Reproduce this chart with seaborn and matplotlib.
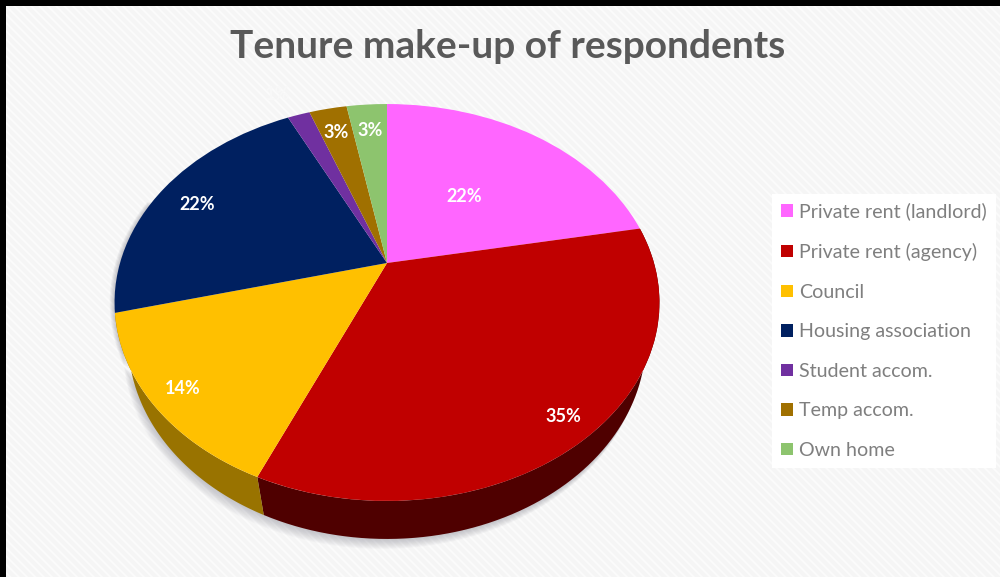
import numpy as np
import matplotlib
matplotlib.use('Agg')
import matplotlib.pyplot as plt
from matplotlib.patches import Rectangle
from matplotlib.transforms import Transform
import seaborn as sns

tenure = ['Private rent (landlord)', 'Private rent (agency)', 'Council',
          'Housing association', 'Student accom.', 'Temp accom.', 'Own home']
share = [22, 34.5, 14.5, 21.8, 1.6, 2.7, 2.9]
pct_labels = ['22%', '35%', '14%', '22%', '1%', '3%', '3%']
label_pos = [(464, 197), (563, 416), (183, 388), (197, 204), (278, 94), (336, 133), (370, 131)]
slice_colors = ['#FF66FF', '#C00000', '#FFC000', '#002060', '#7030A0', '#A07000', '#8DC46E']
side_colors = {1: '#4F0000', 2: '#997300'}

sns.set_theme(style='white')
plt.rcParams['font.family'] = ['Lato', 'DejaVu Sans']
plt.rcParams['hatch.linewidth'] = 1.4


def tilt(x, y):
    # the pie is seen in perspective, so its centre is not the ellipse centre
    d = 1 + 0.199 * y
    return 387 + 267 * x / d, 263 - 190.6 * y / d


class Tilt(Transform):
    input_dims = 2
    output_dims = 2

    def transform_non_affine(self, values):
        px, py = tilt(values[:, 0], values[:, 1])
        return np.column_stack([px, py])


def rim(t0, t1, shrink=0.95, drop=38):
    t = np.radians(np.linspace(t0, t1, 80))
    px, py = tilt(np.sin(t), np.cos(t))
    low_x = 387 + (px - 387) * shrink
    low_y = py + drop
    return np.r_[px, low_x[::-1]], np.r_[py, low_y[::-1]]


fig = plt.figure(figsize=(10, 5.77), dpi=100, facecolor='black')
ax = fig.add_axes([0, 0, 1, 1])
ax.add_patch(Rectangle((6, 6), 994, 571, fc='#F5F5F5', ec='#FBFBFB', lw=0, hatch='\\\\\\\\'))

wedges, _ = ax.pie(share, colors=sns.color_palette(slice_colors), startangle=90,
                   counterclock=False, wedgeprops={'lw': 0})
for w in wedges:
    w.set_transform(Tilt() + ax.transData)
    w.set_zorder(5)

ax.set_aspect('auto')
ax.set_xlim(0, 1000)
ax.set_ylim(577, 0)
ax.axis('off')

edges = np.cumsum([0] + share) / sum(share) * 360

# soft shadow under the rim
for s in range(1, 11):
    sx, sy = rim(70, 290, drop=38 + s)
    ax.fill(sx - s * 0.5, sy, color='#606070', alpha=0.035, lw=0, zorder=2)

# only the front slices show a side wall
for i, c in side_colors.items():
    sx, sy = rim(edges[i], edges[i + 1])
    ax.fill(sx, sy, color=c, lw=0, zorder=3)

for txt, (lx, ly) in zip(pct_labels, label_pos):
    col = '#F8F8F8' if txt == '1%' else 'white'
    ax.text(lx, ly, txt, color=col, fontsize=13, fontweight='bold',
            ha='center', va='center', zorder=6)

ax.text(508, 46, 'Tenure make-up of respondents', color='#595959', fontsize=28,
        fontweight='bold', ha='center', va='center')

leg = ax.legend(wedges, tenure, loc='upper left', bbox_to_anchor=(0.772, 0.664),
                fontsize=14.1, labelcolor='#7F7F7F', frameon=True, fancybox=False,
                facecolor='white', edgecolor='none', framealpha=1, borderpad=0.45,
                handlelength=0.6, handleheight=0.6, handletextpad=0.35,
                labelspacing=1.15, borderaxespad=0)
leg.set_zorder(6)

fig.savefig('out.png', dpi=100, facecolor=fig.get_facecolor())
